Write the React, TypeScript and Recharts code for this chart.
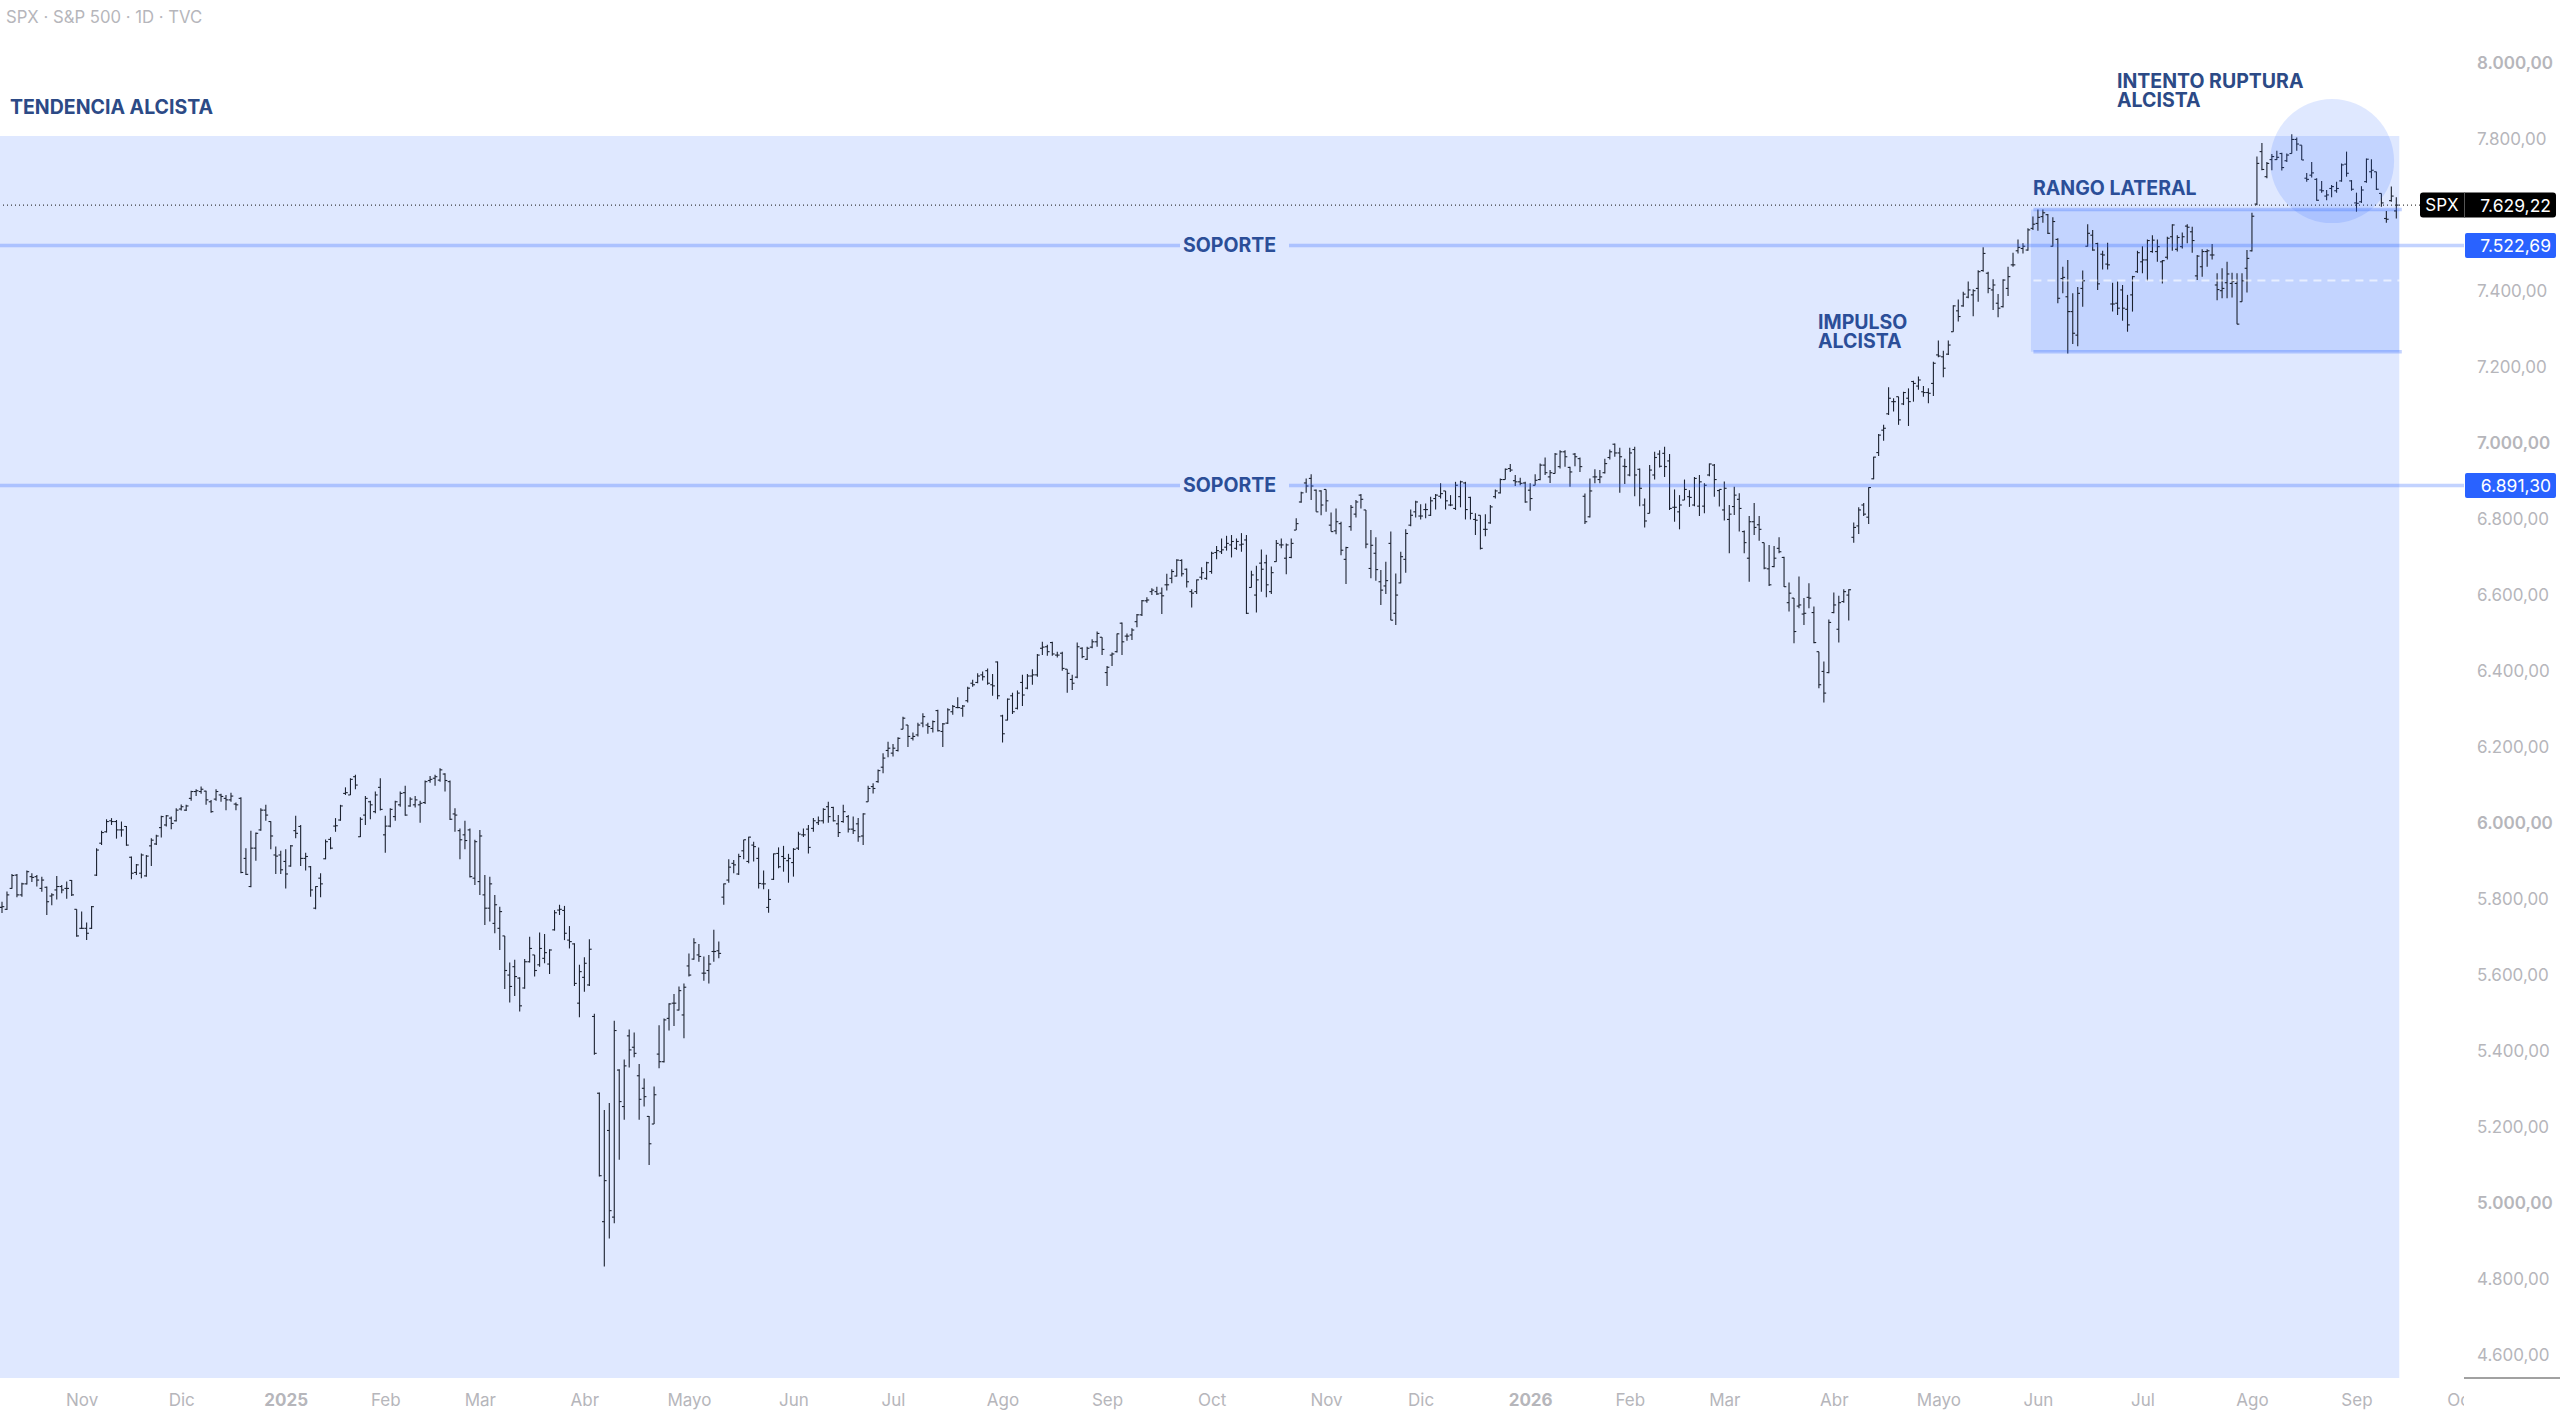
import { Bar, ComposedChart, ReferenceArea, ReferenceDot, ReferenceLine, XAxis, YAxis } from "recharts";

// [open, high, low, close]
const barsNovToJan = [
  [5781,5796,5766,5783],[5776,5823,5774,5814],[5831,5869,5830,5865],[5866,5869,5808,5814],[5814,5846,5809,5843],[5843,5878,5841,5875],
  [5862,5871,5848,5860],[5862,5866,5836,5853],[5831,5862,5822,5853],[5834,5836,5761,5796],[5811,5818,5787,5814],[5827,5864,5802,5836],
  [5836,5840,5818,5827],[5831,5849,5804,5831],[5852,5853,5811,5814],[5776,5776,5704,5706],[5726,5770,5724,5726],[5726,5741,5695,5713],
  [5726,5785,5724,5783],[5866,5937,5864,5932],[5950,5983,5945,5978],[5980,6013,5978,6007],[6009,6016,5998,6007],[6007,6011,5962,5985],
  [5985,6007,5967,5985],[5994,5995,5943,5945],[5913,5915,5855,5871],[5873,5895,5866,5893],[5871,5923,5858,5919],[5864,5919,5862,5916],
  [5943,5963,5890,5958],[5948,5972,5945,5969],[5991,6022,5965,6020],[5998,6024,5994,6022],[6016,6020,5987,6002],[6009,6042,6007,6037],
  [6040,6052,6036,6046],[6037,6051,6035,6048],[6068,6088,6062,6086],[6086,6092,6074,6088],[6086,6099,6080,6092],[6087,6088,6051,6064],
  [6059,6064,6030,6033],[6066,6092,6062,6086],[6077,6080,6059,6073],[6068,6077,6037,6064],[6064,6083,6059,6074],[6053,6057,6037,6051],
  [6068,6071,5871,5873],[5910,5937,5866,5868],[5836,5983,5834,5937],[5937,5978,5904,5976],[5985,6042,5983,6037],[6037,6051,6009,6024],
  [6007,6008,5934,5969],[5919,5941,5869,5916],[5919,5930,5869,5880],[5902,5934,5831,5869],[5890,5945,5888,5943],[5983,6022,5963,5976],
  [5994,5998,5890,5910],[5910,5925,5878,5915],[5888,5890,5809,5827],[5779,5837,5776,5836],[5858,5871,5808,5843],[5909,5960,5908,5954],
  [5960,5966,5934,5937],[5995,6016,5980,5996],[6011,6051,6009,6048],[6081,6097,6077,6083],[6077,6121,6077,6118],[6125,6130,6092,6103],
];

const barsFebToApr = [
  [5967,6018,5966,6013],[6024,6074,5998,6068],[6059,6062,6013,6051],[6033,6086,6029,6077],[6097,6121,6036,6039],[5972,6022,5925,5995],
  [5995,6042,5992,6039],[6020,6062,6009,6059],[6051,6086,6046,6081],[6083,6101,6022,6024],[6048,6071,6046,6066],[6051,6074,6044,6064],
  [6051,6062,6004,6055],[6057,6115,6053,6112],[6115,6127,6109,6118],[6121,6130,6101,6125],[6116,6147,6112,6143],[6132,6134,6086,6115],
  [6112,6115,6011,6013],[6027,6042,5980,6024],[5983,5989,5908,5959],[5972,6009,5934,5957],[5985,5989,5860,5862],[5858,5959,5840,5954],
  [5849,5985,5814,5969],[5814,5866,5735,5779],[5779,5862,5744,5843],[5739,5814,5713,5788],[5726,5783,5669,5770],[5706,5706,5566,5615],
  [5603,5636,5531,5573],[5625,5643,5548,5599],[5595,5597,5507,5522],[5569,5645,5567,5638],[5638,5704,5636,5673],[5656,5656,5599,5615],
  [5630,5715,5625,5673],[5647,5711,5634,5662],[5632,5671,5606,5669],[5722,5774,5720,5767],[5774,5788,5761,5776],[5773,5785,5695,5713],
  [5695,5732,5673,5691],[5685,5687,5574,5581],[5529,5630,5492,5612],[5597,5650,5559,5634],[5577,5697,5574,5671],[5494,5501,5393,5397],
  [5292,5294,5073,5075],[4954,5248,4836,5062],[5194,5266,4910,4983],[4966,5483,4950,5457],[5353,5355,5117,5270],[5257,5381,5222,5364],
  [5443,5460,5360,5406],[5413,5452,5387,5397],[5338,5369,5222,5276],[5305,5331,5257,5283],[5231,5232,5103,5159],[5211,5310,5211,5288],
];

const barsMayToAug = [
  [5395,5471,5358,5375],[5375,5489,5373,5485],[5489,5529,5457,5527],[5529,5553,5469,5529],[5511,5573,5510,5562],[5498,5581,5437,5571],
  [5627,5660,5599,5603],[5645,5700,5643,5688],[5656,5685,5638,5652],[5608,5652,5588,5608],[5615,5656,5581,5632],[5665,5722,5638,5665],
  [5667,5691,5647,5660],[5808,5844,5788,5843],[5853,5908,5846,5887],[5897,5906,5871,5893],[5869,5922,5866,5915],[5930,5959,5908,5959],
  [5902,5967,5897,5966],[5945,5954,5902,5941],[5910,5939,5831,5844],[5843,5878,5829,5843],[5781,5829,5767,5802],[5855,5923,5853,5922],
  [5923,5939,5884,5888],[5915,5943,5875,5910],[5904,5922,5846,5910],[5899,5937,5862,5934],[5937,5980,5932,5974],[5972,5989,5966,5972],
  [5987,5998,5923,5939],[5989,6016,5980,6009],[6004,6020,5998,6009],[6009,6042,6002,6039],[6046,6059,6004,6020],[6044,6046,6007,6009],
  [6001,6024,5966,5978],[6007,6051,6004,6033],[6020,6024,5978,5987],[5987,6020,5974,5983],[6001,6016,5954,5967],[5969,6029,5945,6027],
  [6059,6101,6059,6094],[6099,6108,6081,6094],[6112,6144,6109,6141],[6150,6187,6134,6174],[6194,6217,6176,6200],[6187,6211,6178,6200],
  [6194,6229,6191,6226],[6250,6283,6250,6279],[6261,6261,6203,6231],[6226,6241,6220,6231],[6235,6267,6231,6261],[6266,6292,6255,6283],
  [6261,6267,6238,6257],[6252,6273,6241,6270],[6299,6301,6244,6246],[6244,6266,6203,6264],[6266,6305,6264,6301],[6296,6314,6288,6310],
  [6307,6334,6305,6307],[6305,6314,6283,6311],[6325,6362,6320,6358],[6371,6380,6362,6367],[6373,6397,6371,6390],[6393,6402,6378,6388],
  [6404,6410,6367,6371],[6367,6395,6338,6364],[6427,6428,6329,6338],[6285,6288,6215,6238],[6274,6331,6273,6329],[6338,6346,6290,6296],
];

const barsSepToNov = [
  [6305,6352,6302,6345],[6373,6393,6311,6340],[6358,6395,6355,6390],[6390,6408,6367,6393],[6393,6448,6388,6445],[6463,6480,6445,6466],
  [6467,6472,6443,6454],[6478,6480,6443,6448],[6445,6454,6439,6445],[6450,6454,6404,6410],[6408,6408,6346,6397],[6381,6393,6353,6371],
  [6387,6478,6384,6467],[6463,6466,6437,6441],[6434,6467,6432,6463],[6466,6487,6463,6480],[6480,6507,6467,6502],[6492,6492,6445,6460],
  [6399,6416,6364,6413],[6445,6452,6416,6448],[6454,6502,6452,6501],[6529,6531,6445,6480],[6495,6502,6483,6495],[6498,6516,6485,6511],
  [6533,6553,6518,6551],[6551,6590,6548,6588],[6588,6597,6583,6590],[6612,6621,6603,6616],[6612,6625,6603,6606],[6608,6623,6553,6601],
  [6630,6659,6615,6630],[6647,6671,6634,6665],[6653,6697,6652,6695],[6694,6697,6652,6659],[6671,6673,6623,6638],[6612,6618,6570,6608],
  [6612,6644,6606,6643],[6650,6676,6643,6662],[6647,6691,6643,6688],[6665,6717,6659,6713],[6715,6732,6697,6720],[6717,6752,6711,6722],
  [6729,6759,6720,6739],[6735,6761,6702,6744],[6726,6752,6722,6744],[6735,6766,6717,6737],[6748,6761,6553,6555],[6623,6667,6623,6656],
  [6603,6680,6557,6643],[6687,6723,6612,6671],[6688,6709,6597,6630],[6612,6678,6606,6662],[6691,6748,6691,6739],[6735,6752,6726,6735],
  [6700,6739,6658,6735],[6702,6752,6700,6739],[6774,6805,6774,6791],[6848,6875,6846,6872],[6898,6910,6872,6890],[6910,6921,6853,6890],
  [6879,6881,6822,6822],[6877,6879,6813,6840],[6881,6881,6822,6851],[6787,6820,6770,6770],[6772,6831,6763,6796],[6791,6796,6708,6721],
  [6697,6730,6632,6728],[6783,6840,6772,6834],[6816,6853,6807,6848],[6866,6869,6831,6855],[6827,6827,6726,6737],[6673,6774,6647,6734],
  [6713,6755,6641,6670],[6638,6669,6577,6616],[6627,6691,6606,6641],[6739,6770,6537,6537],[6555,6660,6524,6603],[6635,6717,6634,6704],
];

const barsDecToMar = [
  [6697,6776,6662,6765],[6787,6828,6784,6813],[6822,6851,6807,6848],[6811,6842,6802,6811],[6828,6844,6805,6828],[6813,6862,6811,6851],
  [6857,6869,6828,6866],[6863,6897,6857,6870],[6877,6877,6828,6851],[6840,6866,6837,6840],[6831,6901,6827,6892],[6862,6904,6834,6901],
  [6898,6901,6802,6828],[6860,6862,6802,6818],[6802,6818,6761,6800],[6813,6813,6723,6726],[6776,6816,6758,6776],[6793,6840,6791,6835],
  [6862,6881,6857,6877],[6872,6910,6870,6907],[6907,6936,6907,6934],[6936,6948,6927,6932],[6904,6919,6890,6901],[6901,6912,6892,6897],
  [6898,6901,6846,6848],[6879,6897,6825,6857],[6892,6921,6892,6905],[6907,6949,6905,6945],[6945,6965,6919,6925],[6914,6932,6898,6925],
  [6923,6977,6923,6974],[6941,6984,6936,6980],[6980,6984,6941,6967],[6939,6941,6888,6927],[6974,6977,6942,6967],[6962,6965,6927,6941],
  [6863,6870,6790,6796],[6809,6910,6807,6877],[6914,6934,6897,6914],[6907,6932,6897,6914],[6925,6962,6923,6949],[6965,6986,6960,6980],
  [7000,7002,6967,6977],[6977,6991,6872,6967],[6942,6962,6895,6941],[6919,6991,6916,6977],[6986,6993,6863,6919],[6934,6936,6837,6884],
  [6840,6857,6781,6798],[6818,6945,6818,6932],[6919,6980,6907,6965],[6974,6984,6939,6942],[6976,6993,6914,6941],[6956,6974,6827,6831],
  [6834,6881,6796,6834],[6822,6866,6776,6840],[6853,6907,6853,6881],[6862,6879,6835,6860],[6840,6914,6837,6910],[6837,6919,6811,6901],
  [6837,6897,6818,6892],[6919,6949,6916,6948],[6945,6948,6862,6907],[6878,6881,6836,6881],[6827,6902,6799,6884],[6802,6840,6713,6816],
  [6836,6888,6814,6866],[6855,6871,6770,6831],[6770,6773,6713,6741],[6700,6811,6638,6796],[6796,6845,6761,6781],[6788,6811,6746,6776],
  [6741,6741,6671,6674],[6672,6735,6627,6630],[6678,6732,6676,6700],[6726,6755,6713,6717],[6702,6704,6624,6625],[6583,6636,6560,6608],
  [6595,6595,6476,6507],[6574,6652,6568,6577],[6553,6595,6524,6555],[6597,6634,6568,6595],[6557,6573,6476,6478],[6454,6454,6358,6367],
  [6402,6428,6320,6345],[6399,6539,6397,6531],[6557,6610,6555,6577],[6513,6601,6478,6583],[6586,6618,6583,6612],[6603,6618,6536,6617],
];

const barsAprToJun = [
  [6755,6794,6741,6781],[6785,6834,6764,6827],[6840,6845,6811,6816],[6808,6887,6790,6886],[6909,6967,6908,6966],[6978,7027,6969,7024],
  [7037,7051,7009,7042],[7080,7150,7077,7121],[7112,7121,7086,7112],[7125,7125,7051,7064],[7106,7138,7103,7136],[7121,7147,7048,7112],
  [7165,7167,7112,7160],[7153,7178,7143,7169],[7138,7153,7125,7136],[7136,7147,7108,7134],[7160,7217,7127,7213],[7235,7273,7229,7232],
  [7230,7246,7176,7200],[7237,7273,7235,7261],[7296,7366,7296,7364],[7351,7381,7323,7336],[7364,7401,7362,7395],[7387,7428,7384,7406],
  [7393,7408,7337,7404],[7410,7458,7375,7454],[7457,7518,7454,7502],[7450,7454,7397,7410],[7406,7434,7353,7419],[7371,7395,7334,7358],
  [7362,7434,7360,7432],[7410,7467,7390,7441],[7472,7504,7467,7472],[7509,7539,7502,7518],[7515,7529,7502,7521],[7511,7568,7509,7564],
  [7568,7599,7564,7579],[7581,7618,7562,7597],[7599,7618,7583,7609],[7604,7606,7553,7555],[7521,7597,7520,7586],[7539,7542,7371,7384],
];

const barsJunToSep = [
  [7436,7467,7397,7439],[7388,7485,7239,7349],[7349,7397,7264,7292],[7287,7414,7258,7397],[7410,7457,7362,7430],[7521,7579,7520,7555],
  [7550,7564,7509,7511],[7528,7530,7406,7422],[7500,7509,7460,7498],[7474,7530,7460,7472],[7369,7425,7349,7369],[7371,7428,7340,7358],
  [7406,7419,7325,7358],[7355,7393,7296,7314],[7393,7443,7349,7441],[7454,7509,7451,7504],[7480,7521,7450,7485],[7485,7539,7430,7536],
  [7507,7550,7504,7537],[7507,7539,7480,7520],[7480,7485,7423,7483],[7492,7546,7486,7542],[7546,7579,7509,7577],[7513,7550,7507,7544],
  [7520,7557,7515,7546],[7574,7579,7529,7571],[7559,7572,7504,7536],[7443,7498,7432,7495],[7467,7513,7441,7507],[7507,7513,7467,7509],
  [7498,7527,7486,7498],[7419,7450,7379,7407],[7404,7463,7384,7410],[7425,7480,7384,7448],[7423,7451,7386,7428],[7423,7450,7316,7316],
  [7375,7450,7375,7430],[7463,7511,7399,7489],[7509,7609,7507,7600],[7632,7757,7629,7739],[7770,7793,7721,7723],[7704,7743,7700,7739],
  [7749,7764,7721,7757],[7749,7772,7748,7755],[7765,7767,7720,7728],[7746,7765,7743,7761],[7765,7816,7765,7802],[7802,7807,7772,7790],
  [7787,7787,7748,7748],[7700,7714,7691,7697],[7708,7743,7702,7714],[7697,7700,7641,7642],[7669,7693,7662,7667],[7653,7669,7642,7656],
  [7673,7682,7650,7678],[7667,7691,7662,7673],[7693,7739,7691,7735],[7737,7770,7704,7713],[7693,7695,7667,7671],[7635,7662,7612,7634],
  [7638,7679,7635,7669],[7691,7752,7688,7750],[7717,7750,7700,7721],[7717,7717,7669,7671],[7660,7660,7625,7635],[7594,7614,7583,7592],
  [7641,7678,7638,7653],[7614,7650,7594,7629.22],
];

const allBars = [...barsNovToJan, ...barsFebToApr, ...barsMayToAug, ...barsSepToNov, ...barsDecToMar, ...barsAprToJun, ...barsJunToSep];
const emptyDays = 13; // blank space on the right of the last bar

const monthLabels = ["Nov","Dic","2025","Feb","Mar","Abr","Mayo","Jun","Jul","Ago","Sep","Oct","Nov","Dic","2026","Feb","Mar","Abr","Mayo","Jun","Jul","Ago","Sep","Oct"];
const monthStarts = [16,36,57,77,96,117,138,159,179,201,222,243,266,285,307,327,346,368,389,409,430,452,473,494];
// 7.600,00 sits behind the last price tag, so it is left out
const priceTicks = [4600,4800,5000,5200,5400,5600,5800,6000,6200,6400,6600,6800,7000,7200,7400,7800,8000];

const lastPrice = 7629.22;
const support1 = 7522.69;
const support2 = 6891.3;
const rangeTop = 7618;
const rangeBottom = 7243;
const zoneTop = 7811;
const priceMin = 4542.6;
const priceMax = 8169;

const rows = [
  ...allBars.map(([open, high, low, close], idx) => ({ idx, open, high, low, close, range: [low, high] })),
  ...Array.from({ length: emptyDays }, (_, i) => ({ idx: allBars.length + i, range: null })),
];
const lastBar = allBars.length - 1;

const fmt = (v: number) =>
  v.toLocaleString("de-DE", { minimumFractionDigits: 2, maximumFractionDigits: 2 });

const FONT = "Inter, sans-serif";
const NAVY = "#2c4a86";
const GREY = "#b6b6bb";
const FILL = "rgba(41,98,255,0.15)";
const LINE = "rgba(41,98,255,0.28)";

const OhlcBar = (props: any) => {
  const { x, y, width, height, payload } = props;
  if (payload.high == null) return null;
  const cx = x + width / 2;
  const top = Math.min(y, y + height);
  const h = Math.abs(height);
  const toY = (v: number) => top + ((payload.high - v) / (payload.high - payload.low)) * h;
  return (
    <g stroke="#1c2230" strokeWidth={1.1}>
      <line x1={cx} x2={cx} y1={top} y2={top + h} />
      <line x1={cx - 2.3} x2={cx} y1={toY(payload.open)} y2={toY(payload.open)} />
      <line x1={cx} x2={cx + 2.3} y1={toY(payload.close)} y2={toY(payload.close)} />
    </g>
  );
};

const MonthTick = ({ x, y, payload }: any) => {
  const label = monthLabels[monthStarts.indexOf(payload.value)];
  const isYear = label === "2025" || label === "2026";
  return (
    <text x={x} y={y} dy={14} textAnchor="middle" dominantBaseline="central" clipPath="url(#timeClip)"
      fontFamily={FONT} fontSize={17} fontWeight={isYear ? 700 : 400} fill={GREY}>
      {label}
    </text>
  );
};

const PriceTick = ({ x, y, payload }: any) => (
  <text x={x} y={y - 1.5} dx={5} textAnchor="start" dominantBaseline="central"
    fontFamily={FONT} fontSize={17} fontWeight={payload.value % 1000 === 0 ? 600 : 400} fill={GREY}>
    {fmt(payload.value)}
  </text>
);

const BluePriceTag = ({ viewBox, value }: any) => (
  <g>
    <rect x={2465} y={viewBox.y - 12.5} width={91} height={25} rx={2} fill="#2962ff" />
    <text x={2551} y={viewBox.y} textAnchor="end" dominantBaseline="central" fontFamily={FONT} fontSize={17.5} fill="#fff">
      {fmt(value)}
    </text>
  </g>
);

const LastPriceTag = ({ viewBox, value }: any) => (
  <g>
    <rect x={2420} y={viewBox.y - 12.5} width={136} height={25} rx={3} fill="#000" />
    <line x1={2464.5} x2={2464.5} y1={viewBox.y - 12.5} y2={viewBox.y + 12.5} stroke="#555" />
    <text x={2442} y={viewBox.y} textAnchor="middle" dominantBaseline="central" fontFamily={FONT} fontSize={17} fill="#fff">SPX</text>
    <text x={2551} y={viewBox.y} textAnchor="end" dominantBaseline="central" fontFamily={FONT} fontSize={17.5} fill="#fff">
      {fmt(value)}
    </text>
  </g>
);

const Note = ({ x, y, children }: any) => (
  <text x={x} y={y} dominantBaseline="central" fontFamily={FONT} fontSize={19.5} fontWeight={700} fill={NAVY}>
    {children}
  </text>
);

export default function App() {
  return (
    <div style={{ position: "absolute", left: 0, top: 0, width: 2560, height: 1413, background: "#fff" }}>
      <ComposedChart width={2560} height={1413} data={rows} margin={{ top: 0, right: 0, bottom: 0, left: 0 }} barCategoryGap={0}>
        <defs>
          <clipPath id="timeClip">
            <rect x={0} y={0} width={2464} height={1413} />
          </clipPath>
        </defs>
        <XAxis dataKey="idx" type="category" ticks={monthStarts} interval={0} height={35}
          axisLine={false} tickLine={false} tick={<MonthTick />} />
        <YAxis orientation="right" type="number" width={96} domain={[priceMin, priceMax]} allowDataOverflow
          ticks={priceTicks} interval={0} axisLine={false} tickLine={false} tick={<PriceTick />} />

        <ReferenceArea x1={0} x2={lastBar} y1={priceMin} y2={zoneTop} fill={FILL} fillOpacity={1} stroke="none" />
        <ReferenceArea x1={408} x2={lastBar} y1={rangeBottom} y2={rangeTop} fill={FILL} fillOpacity={1} stroke="none" />
        <ReferenceDot x={468} y={7745} r={62} fill={FILL} fillOpacity={1} stroke="none" />

        <ReferenceLine segment={[{ x: 408, y: rangeTop }, { x: lastBar + 1, y: rangeTop }]} stroke={LINE} strokeWidth={3.5} />
        <ReferenceLine segment={[{ x: 408, y: rangeBottom }, { x: lastBar + 1, y: rangeBottom }]} stroke={LINE} strokeWidth={3.5} />
        <ReferenceLine segment={[{ x: 408, y: (rangeTop + rangeBottom) / 2 }, { x: lastBar + 1, y: (rangeTop + rangeBottom) / 2 }]}
          stroke="#fff" strokeOpacity={0.6} strokeWidth={2} strokeDasharray="8 6" />

        <ReferenceLine y={support1} stroke={LINE} strokeWidth={3.5} strokeDasharray="1175 109 1180"
          label={{ content: (p: any) => <BluePriceTag {...p} value={support1} /> }} />
        <ReferenceLine y={support2} stroke={LINE} strokeWidth={3.5} strokeDasharray="1175 109 1180"
          label={{ content: (p: any) => <BluePriceTag {...p} value={support2} /> }} />
        <ReferenceLine y={lastPrice} stroke="#111" strokeWidth={1} strokeDasharray="1 3"
          label={{ content: (p: any) => <LastPriceTag {...p} value={lastPrice} /> }} />

        <Bar dataKey="range" barSize={2} isAnimationActive={false} shape={<OhlcBar />} />

        <text x={6} y={17} dominantBaseline="central" fontFamily={FONT} fontSize={16.7} fill={GREY}>SPX · S&amp;P 500 · 1D · TVC</text>
        <Note x={10} y={107}>TENDENCIA ALCISTA</Note>
        <Note x={2117} y={81}>INTENTO RUPTURA</Note>
        <Note x={2117} y={100}>ALCISTA</Note>
        <Note x={2033} y={188}>RANGO LATERAL</Note>
        <Note x={1818} y={322}>IMPULSO</Note>
        <Note x={1818} y={341}>ALCISTA</Note>
        <Note x={1183} y={245}>SOPORTE</Note>
        <Note x={1183} y={485}>SOPORTE</Note>
        <line x1={2464} x2={2560} y1={1378} y2={1378} stroke="#444" strokeWidth={1} />
      </ComposedChart>
    </div>
  );
}
